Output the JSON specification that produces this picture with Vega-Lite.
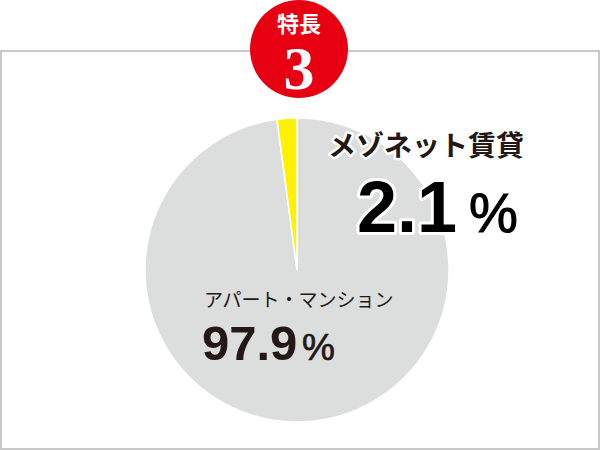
{
  "$schema": "https://vega.github.io/schema/vega-lite/v6.json",
  "width": 600,
  "height": 450,
  "autosize": {"type": "fit", "contains": "padding"},
  "padding": 0,
  "background": "white",
  "config": {"view": {"stroke": null}},
  "data": {
    "values": [
      {"category": "アパート・マンション", "share": 97.9, "order": 1},
      {"category": "メゾネット賃貸", "share": 2.1, "order": 2}
    ]
  },
  "layer": [
    {
      "data": {"values": [{}]},
      "mark": {"type": "rect", "fill": "white", "stroke": "#c9c9c9", "strokeWidth": 2},
      "encoding": {
        "x": {"datum": 1, "type": "quantitative", "scale": {"domain": [0, 600], "nice": false, "zero": false}, "axis": null},
        "x2": {"datum": 599},
        "y": {"datum": 51, "type": "quantitative", "scale": {"domain": [0, 450], "reverse": true, "nice": false, "zero": false}, "axis": null},
        "y2": {"datum": 449}
      }
    },
    {
      "mark": {"type": "arc", "radius": 152, "stroke": "white", "strokeWidth": 1.5},
      "encoding": {
        "x": {"datum": 297, "type": "quantitative"},
        "y": {"datum": 270, "type": "quantitative"},
        "theta": {"field": "share", "type": "quantitative", "stack": true},
        "order": {"field": "order", "type": "quantitative"},
        "color": {
          "field": "category",
          "type": "nominal",
          "scale": {"domain": ["アパート・マンション", "メゾネット賃貸"], "range": ["#dcdddd", "#fff100"]},
          "legend": null
        }
      }
    },
    {
      "data": {"values": [{}]},
      "mark": {"type": "point", "shape": "circle", "filled": true, "fill": "#e60012", "opacity": 1, "size": 9604, "strokeWidth": 0},
      "encoding": {
        "x": {"datum": 299, "type": "quantitative"},
        "y": {"datum": 49, "type": "quantitative"}
      }
    },
    {
      "data": {"values": [{}]},
      "mark": {"type": "text", "text": "特長", "align": "center", "baseline": "middle", "font": "Noto Sans CJK JP", "fontSize": 22, "fontWeight": "bold", "fill": "white"},
      "encoding": {
        "x": {"datum": 299, "type": "quantitative"},
        "y": {"datum": 25, "type": "quantitative"}
      }
    },
    {
      "data": {"values": [{}]},
      "mark": {"type": "text", "text": "3", "align": "center", "baseline": "alphabetic", "font": "Liberation Serif", "fontSize": 62, "fontWeight": "bold", "fill": "white"},
      "encoding": {
        "x": {"datum": 299, "type": "quantitative"},
        "y": {"datum": 89, "type": "quantitative"}
      }
    },
    {
      "transform": [{"filter": "datum.category === 'メゾネット賃貸'"}],
      "encoding": {
        "text": {"field": "category", "type": "nominal"},
        "x": {"datum": 328, "type": "quantitative"},
        "y": {"datum": 148, "type": "quantitative"}
      },
      "layer": [
        {"mark": {"type": "text", "align": "left", "baseline": "middle", "font": "Noto Sans CJK JP", "fontSize": 28, "fontWeight": "bold", "fill": "white", "stroke": "white", "strokeWidth": 5, "strokeJoin": "round"}},
        {"mark": {"type": "text", "align": "left", "baseline": "middle", "font": "Noto Sans CJK JP", "fontSize": 28, "fontWeight": "bold", "fill": "#231815"}}
      ]
    },
    {
      "transform": [{"filter": "datum.category === 'メゾネット賃貸'"}],
      "encoding": {
        "text": {"field": "share", "type": "quantitative", "format": ".1f"},
        "x": {"datum": 357, "type": "quantitative"},
        "y": {"datum": 232, "type": "quantitative"}
      },
      "layer": [
        {"mark": {"type": "text", "align": "left", "baseline": "alphabetic", "font": "Liberation Sans", "fontSize": 72, "fontWeight": "bold", "fill": "white", "stroke": "white", "strokeWidth": 6, "strokeJoin": "round"}},
        {"mark": {"type": "text", "align": "left", "baseline": "alphabetic", "font": "Liberation Sans", "fontSize": 72, "fontWeight": "bold", "fill": "#000000"}}
      ]
    },
    {
      "transform": [{"filter": "datum.category === 'メゾネット賃貸'"}],
      "mark": {"type": "text", "align": "left", "baseline": "alphabetic", "font": "Liberation Sans", "fontSize": 55, "fill": "#000000", "stroke": "#000000", "strokeWidth": 1},
      "encoding": {
        "text": {"value": "%"},
        "x": {"datum": 469, "type": "quantitative"},
        "y": {"datum": 232, "type": "quantitative"}
      }
    },
    {
      "transform": [{"filter": "datum.category === 'アパート・マンション'"}],
      "mark": {"type": "text", "align": "left", "baseline": "middle", "font": "Noto Sans CJK JP", "fontSize": 19, "fill": "#231815"},
      "encoding": {
        "text": {"field": "category", "type": "nominal"},
        "x": {"datum": 204, "type": "quantitative"},
        "y": {"datum": 301, "type": "quantitative"}
      }
    },
    {
      "transform": [{"filter": "datum.category === 'アパート・マンション'"}],
      "mark": {"type": "text", "align": "left", "baseline": "alphabetic", "font": "Liberation Sans", "fontSize": 49, "fontWeight": "bold", "fill": "#231815"},
      "encoding": {
        "text": {"field": "share", "type": "quantitative", "format": ".1f"},
        "x": {"datum": 202, "type": "quantitative"},
        "y": {"datum": 360, "type": "quantitative"}
      }
    },
    {
      "transform": [{"filter": "datum.category === 'アパート・マンション'"}],
      "mark": {"type": "text", "align": "left", "baseline": "alphabetic", "font": "Liberation Sans", "fontSize": 37, "fill": "#231815", "stroke": "#231815", "strokeWidth": 0.7},
      "encoding": {
        "text": {"value": "%"},
        "x": {"datum": 302, "type": "quantitative"},
        "y": {"datum": 360, "type": "quantitative"}
      }
    }
  ]
}
